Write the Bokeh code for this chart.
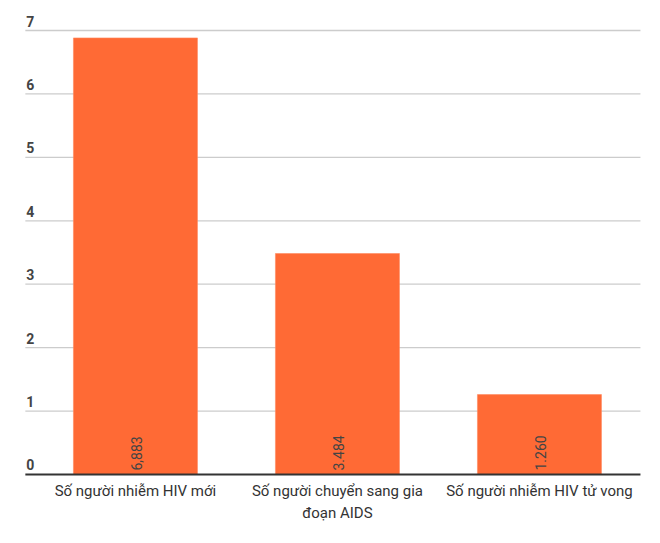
import math
from bokeh.plotting import figure
from bokeh.models import ColumnDataSource, Range1d
from bokeh.core.properties import value
from bokeh.embed import file_html
from bokeh.resources import INLINE

categories = ["Số người nhiễm HIV mới", "Số người chuyển sang gia\nđoạn AIDS", "Số người nhiễm HIV tử vong"]
values = [6.883, 3.484, 1.260]
value_labels = ["6,883", "3.484", "1.260"]
y_ticks = [1, 2, 3, 4, 5, 6, 7]
y_tick_labels = ["0", "1", "2", "3", "4", "5", "6", "7"]

FONT = "Roboto"
xs = list(range(len(categories)))

p = figure(width=644, height=527, output_backend="svg", toolbar_location=None,
           x_range=Range1d(-0.668, 2.520), y_range=Range1d(-0.8356, 7.473),
           min_border=0, outline_line_color=None)
p.axis.visible = False
p.grid.visible = False
p.background_fill_color = "white"
p.border_fill_color = "white"

grid_left, grid_right = -0.545, 2.5
p.segment(x0=[grid_left] * len(y_ticks), x1=[grid_right] * len(y_ticks),
          y0=y_ticks, y1=y_ticks, line_color="#cccccc", line_width=1.3)

src = ColumnDataSource(dict(x=xs, top=values, lab=value_labels, cat=categories))
p.vbar(x="x", top="top", bottom=0, width=0.614, source=src,
       fill_color="#FF6A35", line_color="#FF8A60", line_width=0.6)

p.segment(x0=[grid_left], x1=[grid_right], y0=[0], y1=[0], line_color="#333333", line_width=2)

# y tick labels
p.text(x=[grid_left + 0.005] * 8, y=list(range(8)), text=y_tick_labels,
       text_font=value(FONT), text_font_size="14px", text_color="#444444",
       text_font_style="bold", text_align="left", text_baseline="bottom", y_offset=-4)

# value labels (rotated)
p.text(x="x", y=0, text="lab", source=src, angle=math.pi / 2,
       text_font=value(FONT), text_font_size="14px", text_color="#444444",
       text_align="left", text_baseline="middle", x_offset=1, y_offset=-4)

# category labels
p.text(x="x", y=0, text="cat", source=src,
       text_font=value(FONT), text_font_size="15px", text_color="#333333",
       text_align="center", text_baseline="top", y_offset=8, text_line_height=1.2)

open("out.html", "w").write(file_html(p, INLINE))
